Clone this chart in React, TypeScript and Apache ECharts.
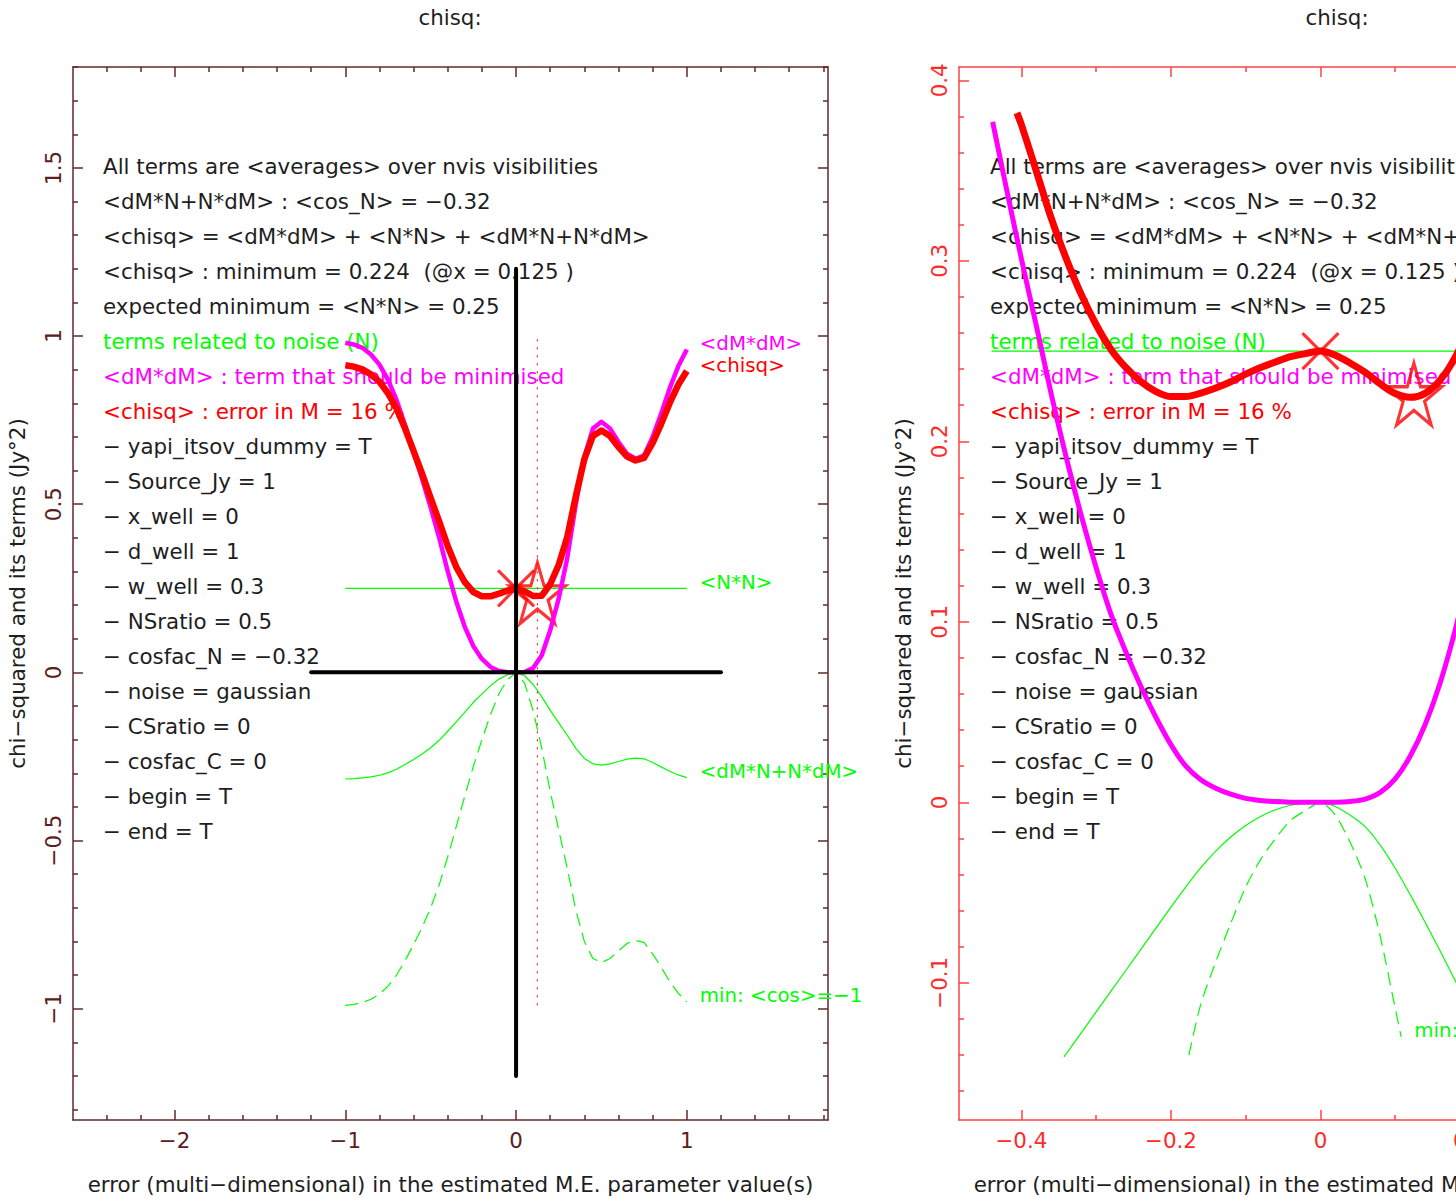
import React, { useEffect, useRef } from 'react';
import * as echarts from 'echarts';

const FONT = '"DejaVu Sans", "Liberation Sans", sans-serif';
const FS = 21.4;
const FS_LABEL = 19.8;
const GREEN = '#00ff00';
const MAGENTA = '#ff00ff';
const RED = '#ff0000';
const BLACK = '#000000';
const INK = '#1e1e1e';
const LEFT_AXIS = '#622828';
const LEFT_LABEL = '#5a2020';
const RIGHT_AXIS = '#ff4040';
const RIGHT_LABEL = '#ff2a2a';

// ---------- left panel (full view) ----------
const xs = [-1, -0.95, -0.9, -0.85, -0.8, -0.75, -0.7, -0.65, -0.6, -0.55, -0.5, -0.45, -0.4, -0.35, -0.3, -0.25, -0.2, -0.15, -0.1, -0.05, 0,
  0.05, 0.1, 0.15, 0.2, 0.25, 0.3, 0.35, 0.4, 0.45, 0.5, 0.55, 0.6, 0.65, 0.7, 0.75, 0.8, 0.85, 0.9, 0.95, 1];
const dMdM = [0.98, 0.975, 0.965, 0.945, 0.915, 0.87, 0.81, 0.735, 0.655, 0.575, 0.49, 0.40, 0.30, 0.21, 0.135, 0.078, 0.04, 0.016, 0.004, 0.0005, 0,
  0.001, 0.013, 0.05, 0.125, 0.22, 0.34, 0.50, 0.64, 0.725, 0.745, 0.725, 0.685, 0.65, 0.635, 0.645, 0.70, 0.77, 0.845, 0.91, 0.96];
const chisq = [0.913, 0.909, 0.901, 0.886, 0.864, 0.83, 0.785, 0.725, 0.658, 0.59, 0.518, 0.448, 0.375, 0.313, 0.268, 0.239, 0.226, 0.226, 0.234, 0.243, 0.25,
  0.241, 0.227, 0.228, 0.262, 0.32, 0.403, 0.524, 0.634, 0.703, 0.719, 0.703, 0.67, 0.642, 0.63, 0.638, 0.682, 0.739, 0.801, 0.855, 0.896];
const crossTerm = [-0.317, -0.316, -0.314, -0.311, -0.306, -0.299, -0.288, -0.274, -0.259, -0.243, -0.224, -0.202, -0.175, -0.147, -0.118, -0.089, -0.064, -0.04, -0.02, -0.007, 0,
  -0.01, -0.036, -0.072, -0.113, -0.15, -0.187, -0.226, -0.256, -0.272, -0.276, -0.272, -0.265, -0.258, -0.255, -0.257, -0.268, -0.281, -0.294, -0.305, -0.313];
const minCos = [-0.99, -0.987, -0.982, -0.972, -0.957, -0.933, -0.9, -0.857, -0.809, -0.758, -0.7, -0.632, -0.548, -0.458, -0.367, -0.279, -0.2, -0.126, -0.063, -0.022, 0,
  -0.032, -0.114, -0.224, -0.354, -0.469, -0.583, -0.707, -0.8, -0.851, -0.863, -0.851, -0.828, -0.806, -0.797, -0.803, -0.837, -0.877, -0.919, -0.954, -0.98];
const nnLevel = 0.25;
const nnSpanLeft = [-1, 1];
const axisCross = [-1.2, 1.2];
const dottedX = 0.125;
const dottedSpan = [-0.99, 0.99];
const chisqMin = [0.125, 0.224];
const chisqAtZero = [0, 0.25];

// ---------- right panel (zoomed view) ----------
const rDM = [[-0.4385, 0.377], [-0.42, 0.34], [-0.4, 0.301], [-0.38, 0.264], [-0.36, 0.226], [-0.34, 0.191], [-0.32, 0.159], [-0.3, 0.13],
  [-0.28, 0.104], [-0.26, 0.083], [-0.24, 0.064], [-0.22, 0.047], [-0.2, 0.032], [-0.18, 0.02], [-0.16, 0.0125], [-0.14, 0.0078],
  [-0.12, 0.0045], [-0.1, 0.0022], [-0.08, 0.001], [-0.06, 0.0004], [-0.04, 0.0001], [-0.02, 0.00002], [0, 0], [0.02, 0.00005],
  [0.04, 0.0005], [0.06, 0.0018], [0.08, 0.0055], [0.1, 0.013], [0.12, 0.0255], [0.14, 0.043], [0.16, 0.066], [0.18, 0.095],
  [0.2, 0.13], [0.22, 0.17]];
const rChisq = [[-0.406, 0.382], [-0.4, 0.3754], [-0.38, 0.3496], [-0.36, 0.3235], [-0.34, 0.3012], [-0.32, 0.2814], [-0.3, 0.2646],
  [-0.28, 0.2508], [-0.26, 0.2408], [-0.24, 0.2330], [-0.22, 0.2276], [-0.2, 0.2248], [-0.18, 0.2248], [-0.16, 0.2267], [-0.14, 0.2295],
  [-0.12, 0.233], [-0.1, 0.2372], [-0.08, 0.2409], [-0.06, 0.244], [-0.04, 0.2469], [-0.02, 0.2486], [0, 0.25], [0.02, 0.2477],
  [0.04, 0.2433], [0.06, 0.2382], [0.08, 0.2318], [0.1, 0.2265], [0.12, 0.2244], [0.14, 0.2266], [0.16, 0.2338], [0.18, 0.2464],
  [0.2, 0.2646], [0.22, 0.288]];
const rCross = [[-0.343, -0.141], [-0.34, -0.1393], [-0.32, -0.1277], [-0.3, -0.1161], [-0.28, -0.1045], [-0.26, -0.0929], [-0.24, -0.0813],
  [-0.22, -0.0697], [-0.2, -0.0581], [-0.18, -0.0468], [-0.16, -0.0362], [-0.14, -0.027], [-0.12, -0.0192], [-0.1, -0.0128],
  [-0.08, -0.0078], [-0.06, -0.0041], [-0.04, -0.0016], [-0.02, -0.0004], [0, 0], [0.02, -0.0023], [0.04, -0.0072], [0.06, -0.0136],
  [0.08, -0.0237], [0.1, -0.0365], [0.12, -0.0511], [0.14, -0.0664], [0.16, -0.0822], [0.18, -0.0986], [0.2, -0.1154], [0.22, -0.1319]];
const rMinCos = [[-0.176, -0.14], [-0.16, -0.1118], [-0.14, -0.0883], [-0.12, -0.0671], [-0.1, -0.0469], [-0.08, -0.0316], [-0.06, -0.02],
  [-0.04, -0.01], [-0.02, -0.0045], [0, 0], [0.02, -0.0071], [0.04, -0.0224], [0.06, -0.0424], [0.08, -0.0742], [0.1, -0.114], [0.108, -0.13]];
const nnSpanRight = [-0.44, 0.48];

// ---------- axes ----------
const leftXRange = [-2.595, 1.827];
const leftYRange = [-1.331, 1.8];
const rightXRange = [-0.4835, 0.5265];
const rightYRange = [-0.176, 0.4074];
const leftXTicks = [-2, -1, 0, 1];
const leftXLabels = ['−2', '−1', '0', '1'];
const leftXMinor = [-2.4, -2.2, -1.8, -1.6, -1.4, -1.2, -0.8, -0.6, -0.4, -0.2, 0.2, 0.4, 0.6, 0.8, 1.2, 1.4, 1.6, 1.8];
const leftYTicks = [-1, -0.5, 0, 0.5, 1, 1.5];
const leftYLabels = ['−1', '−0.5', '0', '0.5', '1', '1.5'];
const leftYMinor = [-1.3, -1.2, -1.1, -0.9, -0.8, -0.7, -0.6, -0.4, -0.3, -0.2, -0.1, 0.1, 0.2, 0.3, 0.4, 0.6, 0.7, 0.8, 0.9,
  1.1, 1.2, 1.3, 1.4, 1.6, 1.7, 1.8];
const rightXTicks = [-0.4, -0.2, 0, 0.2, 0.4];
const rightXLabels = ['−0.4', '−0.2', '0', '0.2', '0.4'];
const rightXMinor = [-0.3, -0.1, 0.1, 0.3, 0.5];
const rightYTicks = [-0.1, 0, 0.1, 0.2, 0.3, 0.4];
const rightYLabels = ['−0.1', '0', '0.1', '0.2', '0.3', '0.4'];
const rightYMinor = [-0.16, -0.14, -0.12, -0.08, -0.06, -0.04, -0.02, 0.02, 0.04, 0.06, 0.08, 0.12, 0.14, 0.16, 0.18,
  0.22, 0.24, 0.26, 0.28, 0.32, 0.34, 0.36, 0.38];

const titleText = 'chisq:';
const xName = 'error (multi−dimensional) in the estimated M.E. parameter value(s)';
const yName = 'chi−squared and its terms (Jy°2)';

const noteLines = [
  'All terms are <averages> over nvis visibilities',
  '<dM*N+N*dM> : <cos_N> = −0.32',
  '<chisq> = <dM*dM> + <N*N> + <dM*N+N*dM>',
  '<chisq> : minimum = 0.224  (@x = 0.125 )',
  'expected minimum = <N*N> = 0.25',
  'terms related to noise (N)',
  '<dM*dM> : term that should be minimised',
  '<chisq> : error in M = 16 %',
  '− yapi_itsov_dummy = T',
  '− Source_Jy = 1',
  '− x_well = 0',
  '− d_well = 1',
  '− w_well = 0.3',
  '− NSratio = 0.5',
  '− cosfac_N = −0.32',
  '− noise = gaussian',
  '− CSratio = 0',
  '− cosfac_C = 0',
  '− begin = T',
  '− end = T',
];
const noteColors = noteLines.map((_, i) => (i === 5 ? GREEN : i === 6 ? MAGENTA : i === 7 ? RED : INK));

const labelDM = '<dM*dM>';
const labelChisq = '<chisq>';
const labelNN = '<N*N>';
const labelCross = '<dM*N+N*dM>';
const labelMin = 'min: <cos>=−1';

const STAR = 'path://M100,0L122.45,69.1L195.1,69.1L136.3,111.8L158.8,180.9L100,138.2L41.2,180.9L63.7,111.8L4.9,69.1L77.55,69.1Z';
const CROSS = 'path://M0,0L20,20M20,0L0,20';

const zip = (a: number[], b: number[]) => a.map((x, i) => [x, b[i]]);

function fmt(majors: number[], labels: string[]) {
  return (v: number) => {
    const i = majors.findIndex((m) => Math.abs(m - v) < 1e-9);
    return i >= 0 ? labels[i] : '';
  };
}

function makeAxes(dim: 'x' | 'y', gi: number, range: number[], majors: number[], minors: number[], labels: string[],
  lineColor: string, labelColor: string, name: string) {
  const base: any = {
    type: 'value', gridIndex: gi, min: range[0], max: range[1], silent: true,
    splitLine: { show: false }, axisLine: { show: false, onZero: false }, axisLabel: { show: false },
  };
  const tick = (vals: number[], len: number) => ({
    show: true, inside: true, length: len, customValues: vals, lineStyle: { color: lineColor, width: 1.5 },
  });
  const line = { show: true, onZero: false, lineStyle: { color: lineColor, width: 1.5 } };
  const p1 = dim === 'x' ? 'bottom' : 'left';
  const p2 = dim === 'x' ? 'top' : 'right';
  return [
    {
      ...base, position: p1, axisLine: line, axisTick: tick(majors, 10),
      axisLabel: {
        show: true, customValues: majors, formatter: fmt(majors, labels), color: labelColor,
        fontSize: FS, fontFamily: FONT, margin: dim === 'x' ? 10 : 9, rotate: dim === 'x' ? 0 : 90,
      },
      name, nameLocation: 'middle', nameGap: dim === 'x' ? 54 : 45,
      nameTextStyle: { color: INK, fontSize: FS, fontFamily: FONT },
    },
    { ...base, position: p1, axisTick: tick(minors, 5) },
    { ...base, position: p2, axisLine: line, axisTick: tick(majors, 10) },
    { ...base, position: p2, axisTick: tick(minors, 5) },
  ];
}

function curve(data: any[], color: string, width: number, ax: number, opts: any = {}) {
  return {
    type: 'line', xAxisIndex: ax, yAxisIndex: ax, data, showSymbol: false, symbol: 'none', silent: true, clip: true,
    smooth: opts.smooth ?? false, emphasis: { disabled: true },
    lineStyle: { color, width, type: opts.dash ?? 'solid', cap: opts.cap ?? 'butt', join: 'round' },
    endLabel: opts.label
      ? { show: true, formatter: opts.label, color, fontSize: FS_LABEL, fontFamily: FONT, distance: 13, offset: [0, -6] }
      : { show: false },
  };
}

function marker(point: number[], ax: number, symbol: string, size: any, offset: number[]) {
  return {
    type: 'scatter', xAxisIndex: ax, yAxisIndex: ax, data: [point], symbol, symbolSize: size, symbolOffset: offset,
    symbolKeepAspect: false, silent: true, emphasis: { disabled: true },
    itemStyle: { color: 'transparent', borderColor: RED, borderWidth: 3.2 },
  };
}

function buildOption() {
  const grids = [
    { left: 73, top: 67, width: 755, height: 1053, outerBoundsMode: 'none', containLabel: false },
    { left: 959, top: 67, width: 755, height: 1053, outerBoundsMode: 'none', containLabel: false },
  ];
  const xAxis = [
    ...makeAxes('x', 0, leftXRange, leftXTicks, leftXMinor, leftXLabels, LEFT_AXIS, LEFT_LABEL, xName),
    ...makeAxes('x', 1, rightXRange, rightXTicks, rightXMinor, rightXLabels, RIGHT_AXIS, RIGHT_LABEL, xName),
  ];
  const yAxis = [
    ...makeAxes('y', 0, leftYRange, leftYTicks, leftYMinor, leftYLabels, LEFT_AXIS, LEFT_LABEL, yName),
    ...makeAxes('y', 1, rightYRange, rightYTicks, rightYMinor, rightYLabels, RIGHT_AXIS, RIGHT_LABEL, yName),
  ];

  const graphic: any[] = [];
  const titles = [[450, 17], [1337, 17]];
  titles.forEach(([x, y]) => graphic.push({
    type: 'text', x, y, silent: true, z: 0,
    style: { text: titleText, fill: INK, fontSize: FS, fontFamily: FONT, align: 'center', verticalAlign: 'middle' },
  }));
  [103, 990].forEach((x0) => noteLines.forEach((t, i) => graphic.push({
    type: 'text', x: x0, y: 166 + 35 * i, silent: true, z: 0,
    style: { text: t, fill: noteColors[i], fontSize: FS, fontFamily: FONT, align: 'left', verticalAlign: 'middle' },
  })));

  const L = 0;
  const R = 4;
  const series: any[] = [
    // left panel
    curve([[nnSpanLeft[0], nnLevel], [nnSpanLeft[1], nnLevel]], GREEN, 1.2, L, { label: labelNN }),
    curve(zip(xs, crossTerm), GREEN, 1.2, L, { label: labelCross }),
    curve(zip(xs, minCos), GREEN, 1.2, L, { label: labelMin, dash: [13, 7] }),
    curve([[dottedX, dottedSpan[0]], [dottedX, dottedSpan[1]]], RED, 1, L, { dash: [2, 6] }),
    curve(zip(xs, dMdM), MAGENTA, 4.5, L, { label: labelDM }),
    curve(zip(xs, chisq), RED, 6.5, L, { label: labelChisq }),
    marker(chisqAtZero, L, CROSS, 36, [0, 0]),
    marker(chisqMin, L, STAR, [56, 61], [0, -4]),
    curve([[axisCross[0], 0], [axisCross[1], 0]], BLACK, 4, L, { cap: 'round' }),
    curve([[0, axisCross[0]], [0, axisCross[1]]], BLACK, 4, L, { cap: 'round' }),
    // right panel
    curve([[nnSpanRight[0], nnLevel], [nnSpanRight[1], nnLevel]], GREEN, 1.2, R),
    curve(rCross, GREEN, 1.2, R, { smooth: 0.25 }),
    curve(rMinCos, GREEN, 1.2, R, { smooth: 0.25, dash: [13, 7], label: labelMin }),
    curve(rDM, MAGENTA, 5, R, { smooth: 0.3 }),
    curve(rChisq, RED, 7, R, { smooth: 0.3 }),
    marker(chisqAtZero, R, CROSS, 36, [0, 0]),
    marker(chisqMin, R, STAR, [56, 62], [0, -4]),
  ];

  return {
    animation: false,
    backgroundColor: '#ffffff',
    grid: grids,
    xAxis,
    yAxis,
    graphic,
    series,
  };
}

export default function App() {
  const ref = useRef<HTMLDivElement>(null);
  useEffect(() => {
    const chart = echarts.init(ref.current as HTMLDivElement, null, { renderer: 'svg' });
    chart.setOption(buildOption() as any);
    return () => chart.dispose();
  }, []);
  return (
    <div
      ref={ref}
      style={{ position: 'absolute', left: 0, top: 0, width: 1456, height: 1201, background: '#ffffff', overflow: 'hidden' }}
    />
  );
}
